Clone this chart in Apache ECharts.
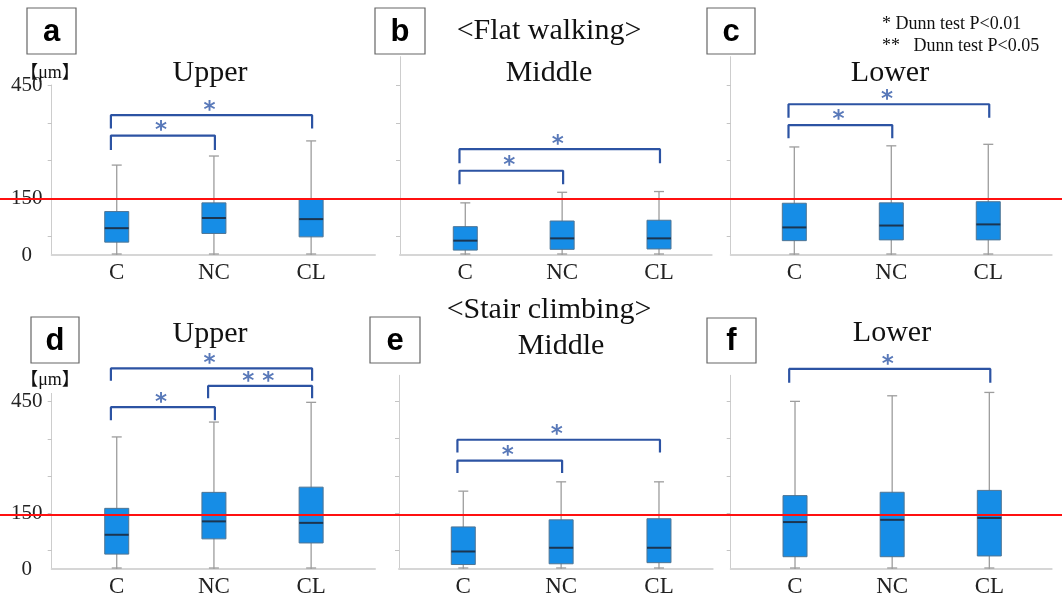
<!DOCTYPE html>
<html>
<head>
<meta charset="utf-8">
<script src="https://cdn.jsdelivr.net/npm/echarts@6/dist/echarts.min.js"></script>
<style>
  html, body { margin: 0; padding: 0; background: #fff; }
  #chart { width: 1062px; height: 598px; }
</style>
</head>
<body>
<div id="chart"></div>
<script>
  // categories on every panel
  var categories = ['C', 'NC', 'CL'];
  var yTicks = [50, 150, 250, 350, 450];
  var yLabels = [0, 150, 450];
  var threshold = 150;

  // box values per group: [min, Q1, median, Q3, max]  (um)
  var flatUpper   = [[0, 34, 71, 115, 238], [0, 57, 98, 138, 262], [0, 48, 95, 147, 302]];
  var flatMiddle  = [[0, 13, 38, 75, 138],  [0, 15, 44, 90, 166],  [0, 16, 44, 92, 168]];
  var flatLower   = [[0, 38, 73, 137, 286], [0, 40, 78, 138, 289], [0, 40, 81, 141, 293]];
  var stairUpper  = [[0, 40, 92, 163, 355], [0, 81, 128, 206, 395], [0, 70, 124, 220, 448]];
  var stairMiddle = [[0, 12, 47, 113, 209], [0, 14, 57, 132, 234], [0, 17, 57, 135, 234]];
  var stairLower  = [[0, 33, 126, 197, 450], [0, 33, 132, 206, 465], [0, 35, 137, 211, 474]];

  // significance brackets: [from, to, bar level, leg bottom, mark]
  var flatUpperSig   = [[0, 1, 316, 278, '*'], [0, 2, 370, 335, '*']];
  var flatMiddleSig  = [[0, 1, 223, 187, '*'], [0, 2, 280, 243, '*']];
  var flatLowerSig   = [[0, 1, 344, 309, '*'], [0, 2, 399, 363, '*']];
  var stairUpperSig  = [[0, 1, 435, 400, '*'], [1, 2, 492, 459, '* *'], [0, 2, 539, 506, '*']];
  var stairMiddleSig = [[0, 1, 291, 258, '*'], [0, 2, 347, 313, '*']];
  var stairLowerSig  = [[0, 2, 537, 500, '*']];

  var serif = '"Liberation Serif", "Times New Roman", serif';

  var panels = [
    { name: 'Upper',  box: flatUpper,   sig: flatUpperSig,   grid: { left: 51.7, top: 85,    width: 323.3, height: 170 },   x: [-0.669, 2.657], yMax: 450, labels: true },
    { name: 'Middle', box: flatMiddle,  sig: flatMiddleSig,  grid: { left: 400,  top: 56.67, width: 311.7, height: 198.33 }, x: [-0.674, 2.544], yMax: 525 },
    { name: 'Lower',  box: flatLower,   sig: flatLowerSig,   grid: { left: 730.7, top: 56.67, width: 321, height: 198.33 },  x: [-0.656, 2.654], yMax: 525 },
    { name: 'Upper',  box: stairUpper,  sig: stairUpperSig,  grid: { left: 51.7, top: 393.4, width: 323.3, height: 178.3 }, x: [-0.669, 2.657], yMax: 472, labels: true },
    { name: 'Middle', box: stairMiddle, sig: stairMiddleSig, grid: { left: 399,  top: 375.3, width: 313.7, height: 196.4 }, x: [-0.657, 2.549], yMax: 520 },
    { name: 'Lower',  box: stairLower,  sig: stairLowerSig,  grid: { left: 730.7, top: 375.3, width: 321, height: 196.4 },  x: [-0.662, 2.642], yMax: 520 }
  ];

  function renderBox(params, api) {
    var x = api.value(0);
    var lo = api.coord([x, api.value(1)]);
    var q1 = api.coord([x, api.value(2)]);
    var med = api.coord([x, api.value(3)]);
    var q3 = api.coord([x, api.value(4)]);
    var hi = api.coord([x, api.value(5)]);
    var bw = 24, cw = 10;
    var whisker = { stroke: '#9d9d9d', lineWidth: 1.3 };
    return {
      type: 'group',
      children: [
        { type: 'line', shape: { x1: lo[0], y1: lo[1], x2: hi[0], y2: hi[1] }, style: whisker },
        { type: 'line', shape: { x1: hi[0] - cw / 2, y1: hi[1], x2: hi[0] + cw / 2, y2: hi[1] }, style: whisker },
        { type: 'line', shape: { x1: lo[0] - cw / 2, y1: lo[1] - 1, x2: lo[0] + cw / 2, y2: lo[1] - 1 }, style: whisker },
        { type: 'rect', shape: { x: q3[0] - bw / 2, y: q3[1], width: bw, height: q1[1] - q3[1] },
          style: { fill: '#168de6', stroke: '#4f7594', lineWidth: 1 } },
        { type: 'line', shape: { x1: med[0] - bw / 2, y1: med[1], x2: med[0] + bw / 2, y2: med[1] },
          style: { stroke: '#1c3550', lineWidth: 2 } }
      ]
    };
  }

  var grids = [], xAxes = [], yAxes = [], series = [];

  panels.forEach(function (p, i) {
    grids.push(p.grid);
    xAxes.push({
      gridIndex: i, type: 'value', min: p.x[0], max: p.x[1],
      axisLine: { show: true, onZero: false, lineStyle: { color: '#d6d6d6', width: 2 } },
      axisTick: { show: false },
      splitLine: { show: false },
      axisLabel: {
        customValues: [0, 1, 2],
        formatter: function (v) { return categories[Math.round(v)]; },
        fontFamily: serif, fontSize: 23, color: '#222', margin: 6
      }
    });
    yAxes.push({
      gridIndex: i, type: 'value', min: 0, max: p.yMax,
      axisLine: { show: true, onZero: false, lineStyle: { color: '#cdcdcd', width: 1 } },
      axisTick: { show: true, customValues: yTicks, length: 4, lineStyle: { color: '#c4c4c4' } },
      splitLine: { show: false },
      axisLabel: {
        show: !!p.labels, customValues: yLabels, align: 'center', margin: 25,
        fontFamily: serif, fontSize: 21, color: '#222'
      }
    });
    series.push({
      type: 'custom', xAxisIndex: i, yAxisIndex: i,
      renderItem: renderBox,
      encode: { x: 0, y: [1, 2, 3, 4, 5] },
      data: p.box.map(function (b, k) { return [k].concat(b); }),
      z: 2
    });
    p.sig.forEach(function (s) {
      var x0 = s[0] - 0.06, x1 = s[1] + 0.01;
      series.push({
        type: 'line', xAxisIndex: i, yAxisIndex: i, clip: false, silent: true,
        symbol: 'none', lineStyle: { color: '#2c53a3', width: 2.2 },
        data: [[x0, s[3]], [x0, s[2]], [x1, s[2]], [x1, s[3]]],
        z: 3
      });
      series.push({
        type: 'scatter', xAxisIndex: i, yAxisIndex: i, clip: false, silent: true,
        symbolSize: 1, itemStyle: { color: 'rgba(0,0,0,0)' },
        label: {
          show: true, position: 'inside', formatter: s[4],
          fontFamily: '"DejaVu Sans", sans-serif', fontWeight: 'bold', fontSize: 23, color: '#2f57a8', offset: [0, 6]
        },
        data: [[(x0 + x1) / 2 - 0.02, s[2] + 28]],
        z: 3
      });
    });
  });

  // full-width overlay grids for the 150 um reference line
  [[85, 170, 450], [393.4, 178.3, 472]].forEach(function (g, r) {
    var gi = grids.length;
    grids.push({ left: 0, width: 1062, top: g[0], height: g[1] });
    xAxes.push({ gridIndex: gi, type: 'value', min: 0, max: 1, show: false });
    yAxes.push({ gridIndex: gi, type: 'value', min: 0, max: g[2], show: false });
    series.push({
      type: 'line', xAxisIndex: gi, yAxisIndex: gi, data: [], z: 10,
      markLine: {
        silent: true, symbol: 'none', label: { show: false },
        lineStyle: { color: '#ff1010', width: 2, type: 'solid' },
        data: [{ yAxis: threshold }]
      }
    });
  });

  function panelTag(letter, x, y, w, h) {
    return {
      type: 'group', children: [
        { type: 'rect', shape: { x: x, y: y, width: w, height: h }, style: { fill: '#fff', stroke: '#666', lineWidth: 1.2 } },
        { type: 'text', style: { text: letter, x: x + w / 2, y: y + h / 2 + 1, textAlign: 'center', textVerticalAlign: 'middle',
          font: 'bold 31px "Liberation Sans", Arial, sans-serif', fill: '#000' } }
      ]
    };
  }
  function label(text, x, y, size, align) {
    return { type: 'text', style: { text: text, x: x, y: y, textAlign: align || 'center', textVerticalAlign: 'middle',
      font: size + 'px ' + serif, fill: '#111' } };
  }
  function unit(y) {
    return { type: 'text', style: { text: '【μm】', x: 50, y: y, textAlign: 'center', textVerticalAlign: 'middle',
      font: '18px "Liberation Serif", "Noto Sans CJK JP", serif', fill: '#111' } };
  }

  var chart = echarts.init(document.getElementById('chart'));
  chart.setOption({
    animation: false,
    backgroundColor: '#fff',
    grid: grids,
    xAxis: xAxes,
    yAxis: yAxes,
    series: series,
    graphic: [
      panelTag('a', 27, 8, 49, 46),
      panelTag('b', 375, 8, 50, 46),
      panelTag('c', 707, 8, 48, 46),
      panelTag('d', 31, 317, 48, 46),
      panelTag('e', 370, 317, 50, 46),
      panelTag('f', 707, 318, 49, 45),
      label('<Flat walking>', 549, 31, 30),
      label('Upper', 210, 73, 30),
      label('Middle', 549, 73, 30),
      label('Lower', 890, 73, 30),
      label('<Stair climbing>', 549, 310, 30),
      label('Upper', 210, 334, 30),
      label('Middle', 561, 346, 30),
      label('Lower', 892, 333, 30),
      label('* Dunn test P<0.01', 882, 24, 18, 'left'),
      label('**   Dunn test P<0.05', 882, 46, 18, 'left'),
      unit(73),
      unit(380)
    ]
  });
</script>
</body>
</html>
